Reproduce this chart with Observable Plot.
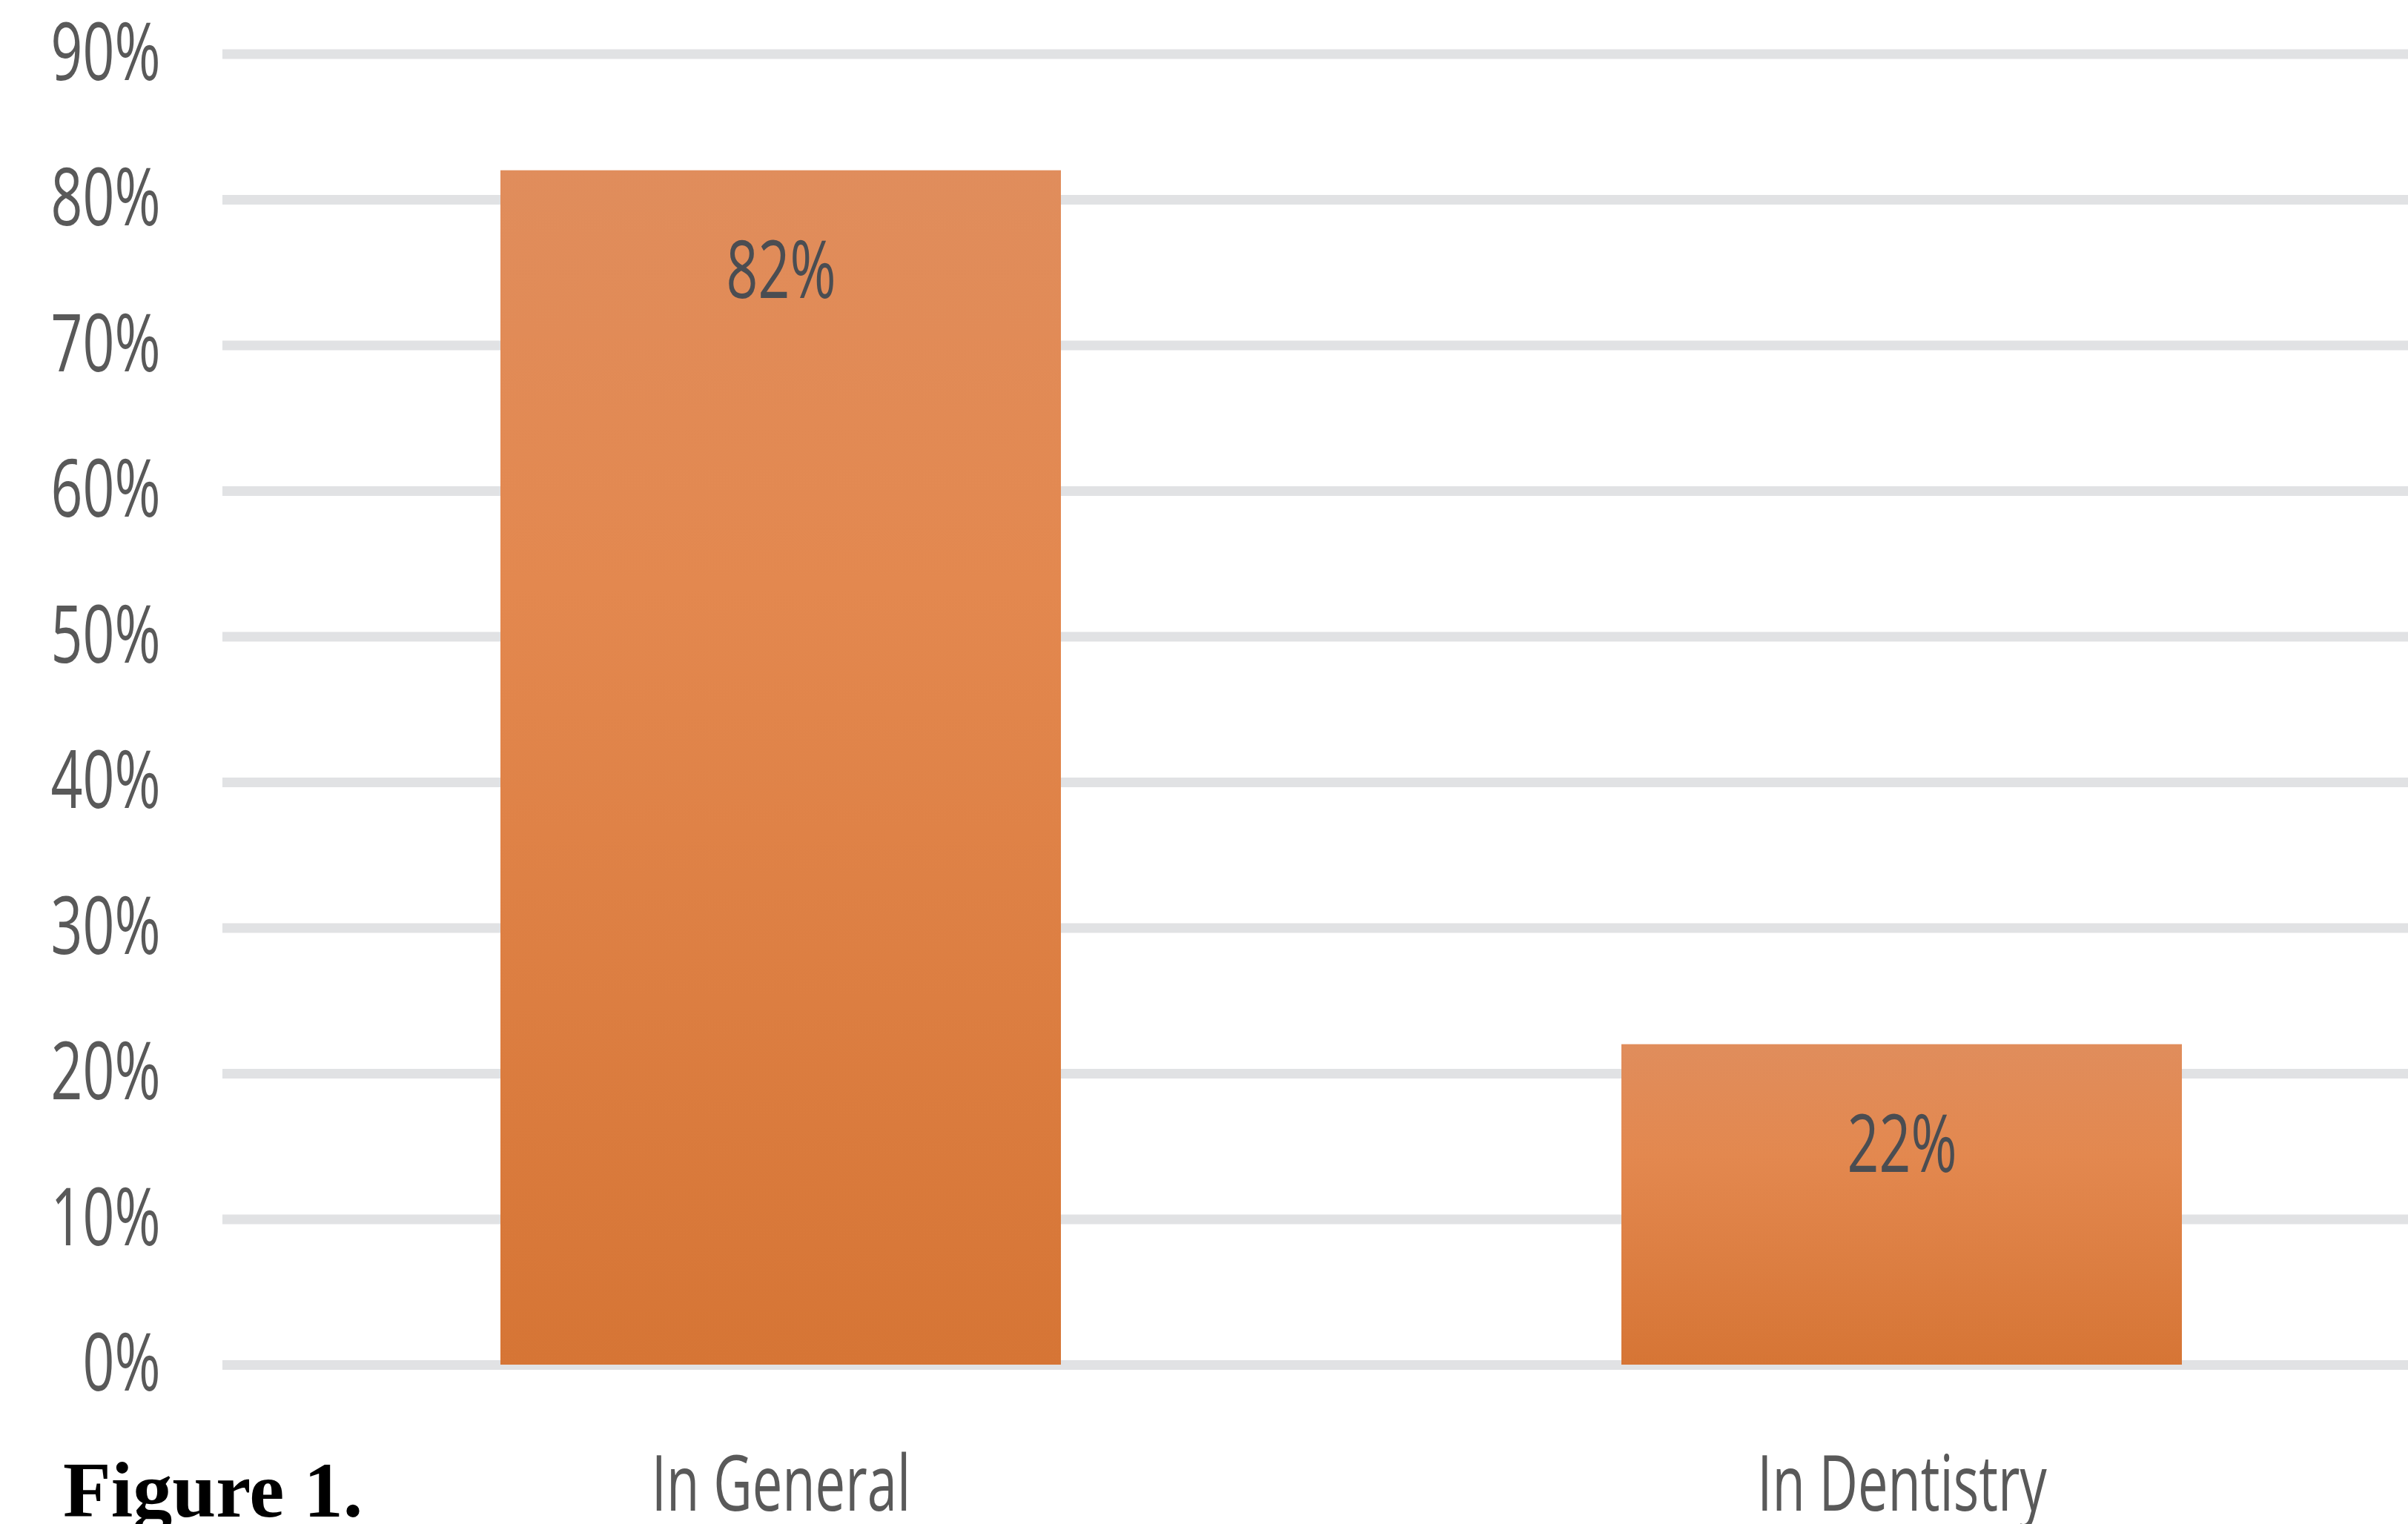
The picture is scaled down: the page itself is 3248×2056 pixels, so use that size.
<!DOCTYPE html>
<html>
<head>
<meta charset="utf-8">
<script src="https://cdn.jsdelivr.net/npm/d3@7"></script>
<script src="https://cdn.jsdelivr.net/npm/@observablehq/plot@0.6"></script>
<style>
  html, body { margin: 0; padding: 0; background: #ffffff; overflow: hidden; }
  #wrap { position: relative; width: 3248px; height: 2056px; }
  #caption {
    position: absolute; left: 85px; top: 1958px;
    font-family: "Liberation Serif", "Times New Roman", serif;
    font-weight: bold; font-size: 106px; line-height: 106px; color: #000;
    white-space: nowrap;
  }
</style>
</head>
<body>
<div id="wrap">
  <div id="chart"></div>
  <div id="caption">Figure 1.</div>
</div>
<script>
const categories = ["In General", "In Dentistry"];
const values = [82, 22];
const yTicks = [0, 10, 20, 30, 40, 50, 60, 70, 80, 90];

const data = categories.map((c, i) => ({category: c, value: values[i]}));

const chart = Plot.plot({
  width: 3248,
  height: 2056,
  marginTop: 72.5,
  marginBottom: 215,
  marginLeft: 300,
  marginRight: 0,
  style: {fontFamily: "'Open Sans', sans-serif", background: "#ffffff", overflow: "visible"},
  x: {type: "band", domain: categories, range: [297, 3321], paddingInner: 0.5, paddingOuter: 0.25, align: 0.5, label: null},
  y: {domain: [0, 90], label: null},
  marks: [
    Plot.ruleY(yTicks, {stroke: "#e1e2e4", strokeWidth: 13}),
    Plot.barY(data, {x: "category", y: "value", fill: "url(#barGradient)"}),
    Plot.text(data, {x: "category", y: "value", text: d => `${d.value}%`, dy: 137, fontSize: 108, fill: "#4a4d52"}),
    Plot.axisY({ticks: yTicks, tickFormat: d => `${d}%`, tickSize: 0, tickPadding: 84, fontSize: 108, fill: "#595959", label: null}),
    Plot.axisX({tickSize: 0, tickPadding: 123, fontSize: 104, fill: "#595959", label: null})
  ]
});

document.getElementById("chart").appendChild(chart);

// gradient fill for the bars
const svg = d3.select(chart.tagName.toLowerCase() === "svg" ? chart : chart.querySelector("svg"));
const defs = svg.insert("defs", ":first-child");
const grad = defs.append("linearGradient")
  .attr("id", "barGradient").attr("x1", 0).attr("y1", 0).attr("x2", 0).attr("y2", 1);
grad.append("stop").attr("offset", "0%").attr("stop-color", "#e08d5c");
grad.append("stop").attr("offset", "35%").attr("stop-color", "#e3884f");
grad.append("stop").attr("offset", "100%").attr("stop-color", "#d67535");

// condensed look of the original labels
svg.selectAll("text").each(function() {
  const len = this.getComputedTextLength();
  if (len > 0) {
    this.setAttribute("textLength", (len * 0.695).toFixed(1));
    this.setAttribute("lengthAdjust", "spacingAndGlyphs");
  }
});
</script>
</body>
</html>
